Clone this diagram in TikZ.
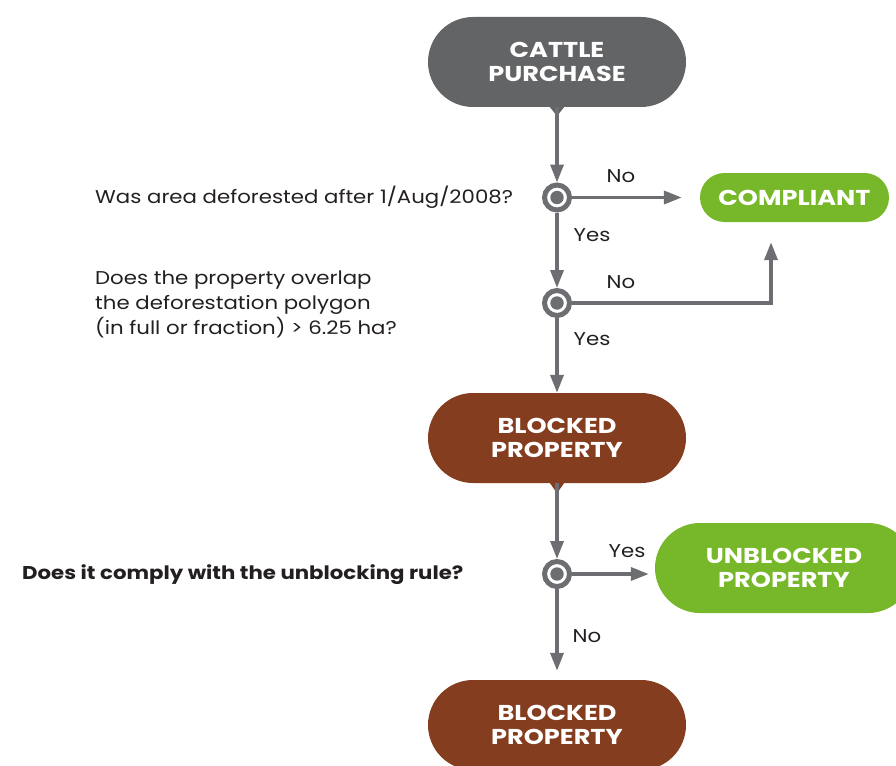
\documentclass[tikz,border=0pt]{standalone}
\usepackage{fontspec}
\setmainfont{Poppins}
\newfontfamily\nodefont[FakeStretch=1.19]{Poppins}
\newfontfamily\txtfont[FakeStretch=1.15]{Poppins}
\usetikzlibrary{arrows.meta}
\definecolor{cgray}{HTML}{636466}
\definecolor{cbrown}{HTML}{843D1F}
\definecolor{cgreen}{HTML}{77B82A}
\definecolor{lgray}{HTML}{6D6E71}
\definecolor{ctxt}{HTML}{231F20}
\begin{document}
\begin{tikzpicture}[x=1pt,y=-1pt,
  term/.style={rectangle, rounded corners=45pt, minimum width=258pt, minimum height=90pt,
    text=white, font=\nodefont\bfseries\fontsize{21.5}{24}\selectfont, align=center, inner sep=0pt},
  small/.style={rectangle, rounded corners=24.5pt, minimum width=189pt, minimum height=49pt,
    text=white, font=\nodefont\bfseries\fontsize{21.5}{24}\selectfont, inner sep=0pt},
  dec/.style={circle, draw=lgray, line width=5pt, fill=white, minimum size=25pt, inner sep=0pt,
    path picture={\fill[lgray] (path picture bounding box.center) circle (6.7pt);}},
  arr/.style={draw=lgray, line width=3.5pt, -{Triangle[length=18pt,width=13pt]}},
  lbl/.style={text=ctxt, font=\txtfont\fontsize{18.5}{22}\selectfont, inner sep=0pt},
  qtxt/.style={text=ctxt, font=\txtfont\fontsize{18.5}{25}\selectfont, align=left, inner sep=0pt, anchor=west},
]
\useasboundingbox (0,0) rectangle (896,765);

% terminal nodes
\node[term, fill=cgray] (cattle) at (557,62) {CATTLE\\PURCHASE};
\node[small, fill=cgreen] (compliant) at (794.5,197.5) {COMPLIANT};
\node[term, fill=cbrown] (blocked1) at (557,438) {BLOCKED\\PROPERTY};
\node[term, fill=cgreen] (unblocked) at (784,568) {UNBLOCKED\\PROPERTY};
\node[term, fill=cbrown] (blocked2) at (557,725) {BLOCKED\\PROPERTY};

% pointers
\fill[cgray] ([xshift=-7pt]cattle.south) -- ([xshift=7pt]cattle.south) -- ([yshift=-9pt]cattle.south) -- cycle;
\fill[cbrown] ([xshift=-7pt]blocked1.south) -- ([xshift=7pt]blocked1.south) -- ([yshift=-10pt]blocked1.south) -- cycle;

% decisions
\node[dec] (d1) at (557,197.5) {};
\node[dec] (d2) at (557,303) {};
\node[dec] (d3) at (557,574) {};

% questions
\node[qtxt] (q1) at (95,197) {Was area deforested after 1/Aug/2008?};
\node[qtxt] (q2) at (95,304) {Does the property overlap\\the deforestation polygon\\(in full or fraction) > 6.25 ha?};
\node[qtxt, font=\txtfont\bfseries\fontsize{18.5}{22}\selectfont] (q3) at (22,575) {Does it comply with the unblocking rule?};

% connectors
\draw[arr] (cattle.south) -- (d1.north);
\draw[arr, shorten >=18pt] (d1.east) -- (d1.east -| compliant.west);
\draw[arr] (d1.south) -- (d2.north);
\draw[arr, shorten >=20pt] (d2.east) -| ([xshift=-23.5pt]compliant.south);
\draw[arr] (d2.south) -- (blocked1.north);
\draw[arr] (blocked1.south) -- (d3.north);
\draw[arr, shorten >=6pt] (d3.east) -- (d3.east -| unblocked.west);
\draw[arr, shorten >=9pt] (d3.south) -- (blocked2.north);

% labels
\node[lbl] (l1) at (621,176) {No};
\node[lbl] (l2) at (592,235) {Yes};
\node[lbl] (l3) at (621,282) {No};
\node[lbl] (l4) at (592,339) {Yes};
\node[lbl] (l5) at (627,551) {Yes};
\node[lbl] (l6) at (587,636) {No};
\end{tikzpicture}
\end{document}
